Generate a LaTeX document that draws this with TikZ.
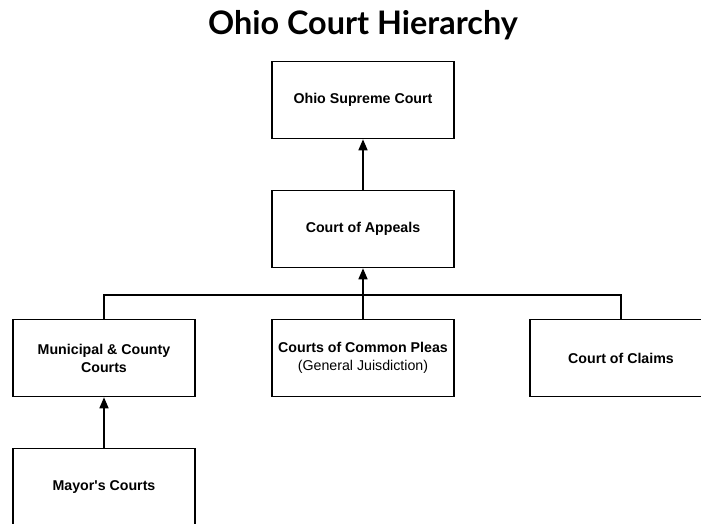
\documentclass[tikz,border=0pt]{standalone}
\usepackage{fontspec}
\setmainfont{Liberation Sans}
\newfontfamily\titlefont{Lato}
\usepackage{tikz}
\usetikzlibrary{positioning,arrows.meta}

\begin{document}
\begin{tikzpicture}[x=1pt, y=-1pt,
          every node/.style={font=\fontsize{14.2}{18}\selectfont\bfseries},
          court/.style={draw, line width=1.6pt, rectangle, fill=white, minimum width=182pt, minimum height=77pt, inner sep=0pt, align=center},
          link/.style={line width=1.6pt},
          up/.style={line width=1.6pt, -{Triangle[length=11pt, width=9pt]}}
      ]
        \useasboundingbox (0,0) rectangle (701,523);

        \node[anchor=base, font=\titlefont\fontsize{32.4}{38}\selectfont\bfseries] (title) at (363,34) {Ohio Court Hierarchy};

        \node[court] (supreme) at (363,100) {Ohio Supreme Court};
        \node[court] (appeals) at (363,229) {Court of Appeals};

        \node[court] (muni) at (104,358) {Municipal \& County\\Courts};
        \node[court] (pleas) at (363,358) {Courts of Common Pleas\\{\mdseries (General Juisdiction)}};
        \node[court] (claims) at (621,358) {Court of Claims};

        \node[court] (mayor) at (104,487) {Mayor\textquotesingle s Courts};

        \coordinate (bar) at (363,295);

        \draw[up] (appeals) -- (supreme);
        \draw[link] (muni.north) |- (bar) -| (claims.north);
        \draw[link] (pleas.north) -- (bar);
        \draw[up] (bar) -- (appeals.south);
        \draw[up] (mayor) -- (muni);
      \end{tikzpicture}
\end{document}
